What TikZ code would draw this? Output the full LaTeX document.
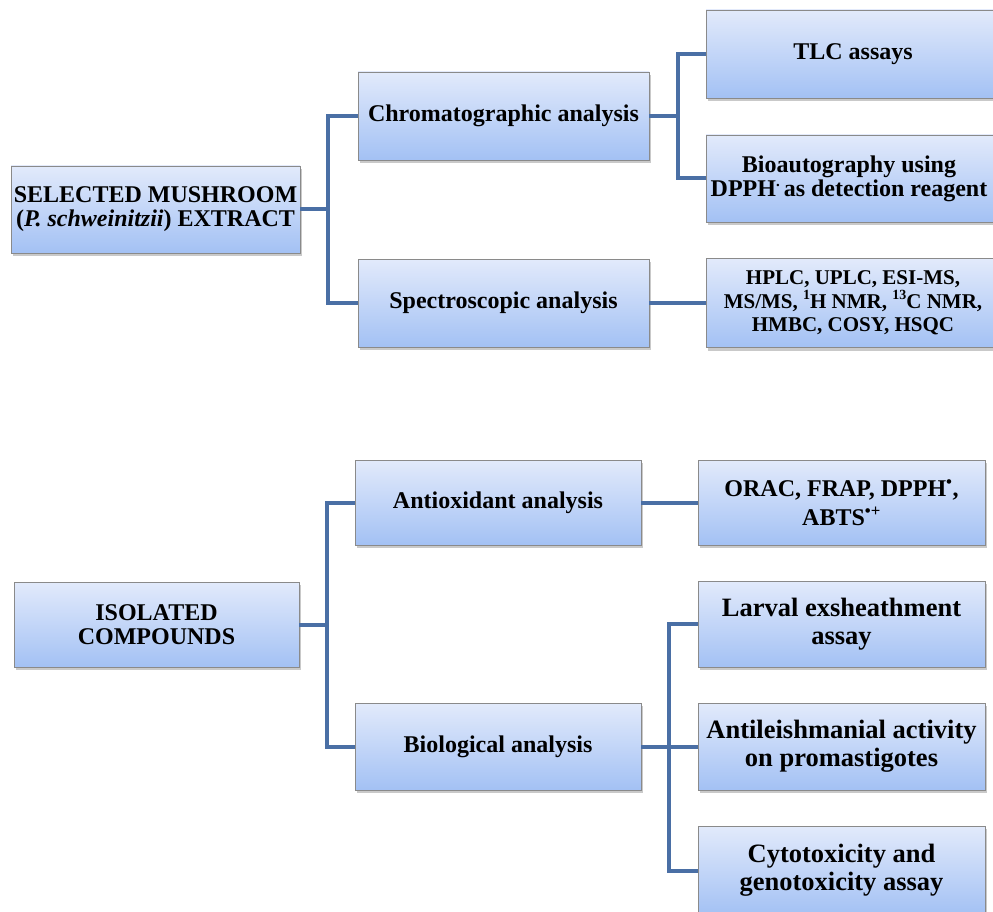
\documentclass[tikz,border=0pt]{standalone}
\usepackage{fontspec}
\setmainfont{Liberation Serif}
\usetikzlibrary{shadows}
\definecolor{linec}{HTML}{4A6FA5}
\definecolor{boxtop}{HTML}{E2EAFB}
\definecolor{boxbot}{HTML}{A3C1F4}
\definecolor{boxline}{HTML}{8A8A8A}
\newcommand{\smsup}[1]{\raisebox{0.4em}{\fontsize{14}{14}\selectfont #1}}
\tikzset{
  box/.style={draw=boxline, line width=0.8pt, top color=boxtop, bottom color=boxbot,
    align=center, inner sep=0pt, font=\bfseries,
    drop shadow={shadow xshift=2pt, shadow yshift=-3pt, opacity=0.35, fill=black!60}},
  conn/.style={draw=linec, line width=4pt},
  fA/.style={font=\fontsize{24}{24}\selectfont\bfseries},
  fB/.style={font=\fontsize{26.5}{28}\selectfont\bfseries},
  fC/.style={font=\fontsize{21}{23.5}\selectfont\bfseries},
}
\begin{document}
\begin{tikzpicture}[x=1pt,y=-1pt]
\useasboundingbox (0,0) rectangle (993,912);
\fill[white] (0,0) rectangle (993,912);
% top group
\node[box,fA,minimum width=289pt,minimum height=87pt] (mush) at (155.5,209.5) {SELECTED MUSHROOM\\(\textit{P. schweinitzii}) EXTRACT};
\node[box,fA,minimum width=291pt,minimum height=88pt] (chrom) at (503.5,116) {Chromatographic analysis};
\node[box,fA,minimum width=291pt,minimum height=88pt] (spec) at (503.5,303) {Spectroscopic analysis};
\node[box,fA,minimum width=294pt,minimum height=88pt] (tlc) at (853,54) {TLC assays};
\node[box,fA,minimum width=294pt,minimum height=87pt] (bio) at (853,178.5) {\hspace*{-8pt}Bioautography using\\\hspace*{-8pt}DPPH\raisebox{0.42em}{\fontsize{15}{15}\selectfont .}\,as detection reagent};
\node[box,fC,minimum width=294pt,minimum height=89pt] (hplc) at (853,303) {HPLC, UPLC, ESI-MS,\\MS/MS, \smsup{1}H NMR, \smsup{13}C NMR,\\HMBC, COSY, HSQC};
% bottom group
\node[box,fA,minimum width=285pt,minimum height=85pt] (iso) at (156.5,624.5) {ISOLATED\\COMPOUNDS};
\node[box,fA,minimum width=286pt,minimum height=85pt] (antiox) at (498,502.5) {Antioxidant analysis};
\node[box,fA,minimum width=286pt,minimum height=87pt] (biol) at (498,746.5) {Biological analysis};
\node[box,fA,minimum width=287pt,minimum height=85pt,font=\fontsize{24}{29}\selectfont\bfseries] (orac) at (841.5,502.5) {ORAC, FRAP, DPPH\textsuperscript{•},\\ABTS\textsuperscript{•+}};
\node[box,fB,minimum width=287pt,minimum height=86pt] (larval) at (841.5,624) {Larval exsheathment\\assay};
\node[box,fB,minimum width=287pt,minimum height=87pt] (leish) at (841.5,746.5) {Antileishmanial activity\\on promastigotes};
\node[box,fB,minimum width=287pt,minimum height=89pt] (cyto) at (841.5,870.5) {Cytotoxicity and\\genotoxicity assay};
% junctions
\coordinate (j1) at (328,209.5);
\coordinate (j2) at (678,116);
\coordinate (j3) at (327,624.5);
\coordinate (j4) at (669,746.5);
% connectors
\draw[conn] (mush.east) -- (j1) |- (chrom.west);
\draw[conn] (j1) |- (spec.west);
\draw[conn] (chrom.east) -- (j2) |- (tlc.west);
\draw[conn] (j2) |- (bio.west);
\draw[conn] (spec.east) -- (hplc.west);
\draw[conn] (iso.east) -- (j3) |- (antiox.west);
\draw[conn] (j3) |- (biol.west);
\draw[conn] (antiox.east) -- (orac.west);
\draw[conn] (biol.east) -- (j4) |- (larval.west);
\draw[conn] (j4) -- (leish.west);
\draw[conn] (j4) |- (cyto.west);
\end{tikzpicture}
\end{document}
